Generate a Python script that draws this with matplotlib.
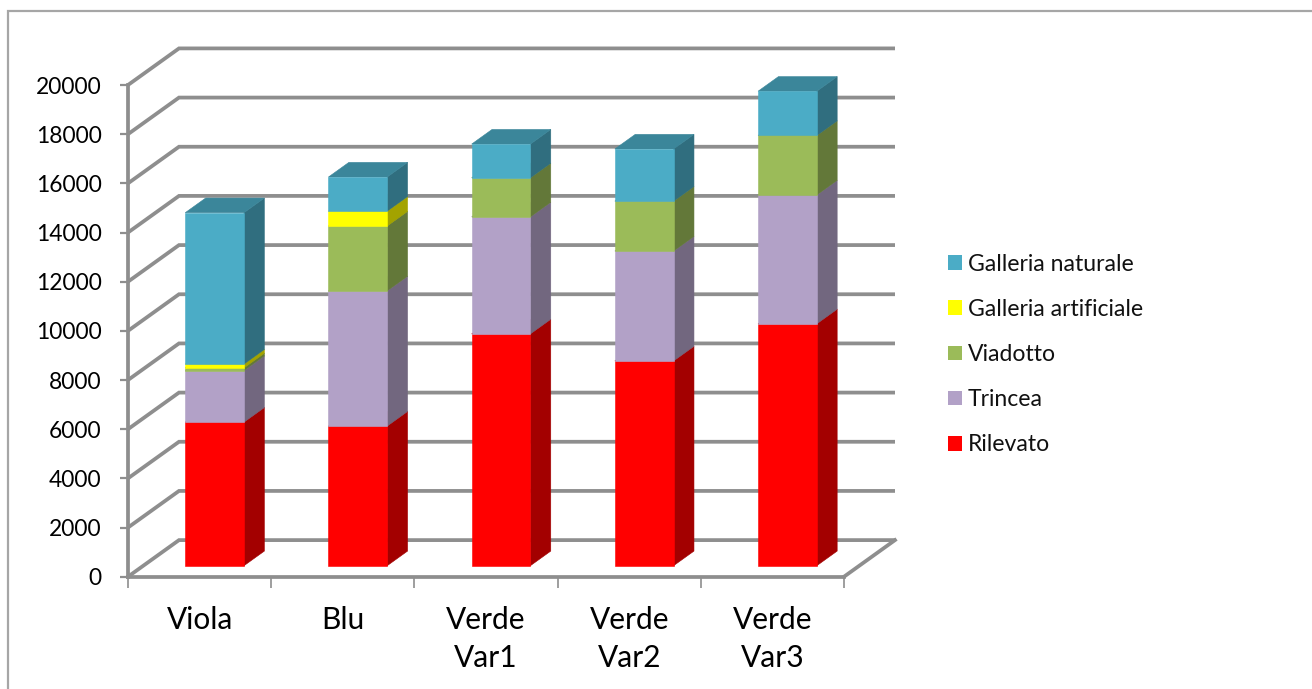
# -*- coding: utf-8 -*-

import matplotlib
matplotlib.use("Agg")
import matplotlib.pyplot as plt
from matplotlib.lines import Line2D
from matplotlib.patches import Patch
from matplotlib.colors import to_rgb

plt.rcParams['font.family'] = ['Lato', 'DejaVu Sans']

W, H = 1312, 689

# lengths of each section, in metres
categories = ["Viola", "Blu", "Verde\nVar1", "Verde\nVar2", "Verde\nVar3"]
rilevato = [5840, 5680, 9430, 8330, 9840]
trincea = [2100, 5500, 4760, 4470, 5240]
viadotto = [110, 2640, 1590, 2030, 2420]
galleria_artificiale = [150, 600, 0, 0, 0]
galleria_naturale = [6160, 1390, 1370, 2120, 1800]
y_ticks = list(range(0, 20001, 2000))

series_names = ["Rilevato", "Trincea", "Viadotto", "Galleria artificiale", "Galleria naturale"]
series_values = [rilevato, trincea, viadotto, galleria_artificiale, galleria_naturale]
series_colours = ["#FF0000", "#B2A1C7", "#9BBB59", "#FFFF00", "#4BACC6"]

GREY = "#8e8e8e"

# front plane of the 3d box, in pixels
left, right, bottom, top = 128, 844, 576.7, 85

fig = plt.figure(figsize=(W / 100, H / 100), dpi=100)
ax = fig.add_axes([left / W, 1 - bottom / H, (right - left) / W, (bottom - top) / H])
ax.set_xlim(0, 5)
ax.set_ylim(0, 20000)
ax.patch.set_visible(False)

# depth of the box expressed in data units
DEPTH_X = 51 * 5 / (right - left)
DEPTH_Y = 36.6 * 20000 / (bottom - top)


def project(x, y, d):
    return x + d * DEPTH_X, y + d * DEPTH_Y


def shade(colour, factor):
    return tuple(c * factor for c in to_rgb(colour))


def box_face(points, colour, z):
    xs, ys = zip(*[project(*p) for p in points])
    ax.fill(xs, ys, color=colour, lw=0.4, zorder=z, clip_on=False)


# gridlines on the back wall and the diagonals on the side wall
for v in y_ticks:
    x0, y0 = project(0, v, 0)
    x1, y1 = project(0, v, 1)
    x2, y2 = project(5, v, 1)
    ax.plot([x0, x1, x2], [y0, y1, y2], color=GREY, lw=2.7, zorder=1,
            clip_on=False, solid_joinstyle="miter", solid_capstyle="butt")

# floor edge on the right
x0, y0 = project(5, 0, 0)
x1, y1 = project(5, 0, 1)
ax.plot([x0, x1], [y0, y1], color=GREY, lw=2.7, zorder=1, clip_on=False)

# stacked bars, painted from the bottom up
bar_gap = 0.293
bar_w = 0.41
d0, d1 = 0.3, 0.7
for i in range(len(categories)):
    base = 0
    xa = i + bar_gap
    xb = xa + bar_w
    for values, colour in zip(series_values, series_colours):
        v = values[i]
        if v == 0:
            continue
        t = base + v
        box_face([(xb, base, d0), (xb, base, d1), (xb, t, d1), (xb, t, d0)], shade(colour, 0.64), 3)
        box_face([(xa, t, d0), (xb, t, d0), (xb, t, d1), (xa, t, d1)], shade(colour, 0.78), 3)
        box_face([(xa, base, d0), (xb, base, d0), (xb, t, d0), (xa, t, d0)], colour, 4)
        base = t

# axes
for s in ["top", "right"]:
    ax.spines[s].set_visible(False)
for s in ["left", "bottom"]:
    ax.spines[s].set_color(GREY)
    ax.spines[s].set_linewidth(2.7)
    ax.spines[s].set_zorder(2)

ax.set_yticks(y_ticks)
ax.set_yticklabels([str(v) for v in y_ticks], fontsize=16.4, color="black")
ax.tick_params(axis="y", length=6, width=1.6, color=GREY, pad=13)

ax.set_xticks(range(len(categories) + 1))
ax.set_xticklabels([])
ax.set_xticks([i + 0.5 for i in range(len(categories))], minor=True)
ax.set_xticklabels(categories, minor=True, fontsize=21.5, color="black", linespacing=1.43)
ax.tick_params(axis="x", which="major", length=8, width=1.2, color=GREY)
ax.tick_params(axis="x", which="minor", length=0, pad=21)

# legend, top entry first
handles = [Patch(facecolor=c, edgecolor="none", label=n)
           for n, c in zip(series_names[::-1], series_colours[::-1])]
fig.legend(handles=handles, loc="center left", bbox_to_anchor=(948 / W, 1 - 354.5 / H),
           frameon=False, fontsize=16.6, handlelength=0.6, handleheight=0.6,
           handletextpad=0.26, labelspacing=1.05, borderpad=0, borderaxespad=0,
           labelcolor="#111111")

# chart area border, left and top edges only
fig.add_artist(Line2D([7.5 / W, 7.5 / W, 1], [0, 1 - 10.5 / H, 1 - 10.5 / H],
                      color="#a6a6a6", lw=1.6, transform=fig.transFigure,
                      solid_joinstyle="miter"))

fig.savefig("out.png", dpi=100, facecolor="white")
